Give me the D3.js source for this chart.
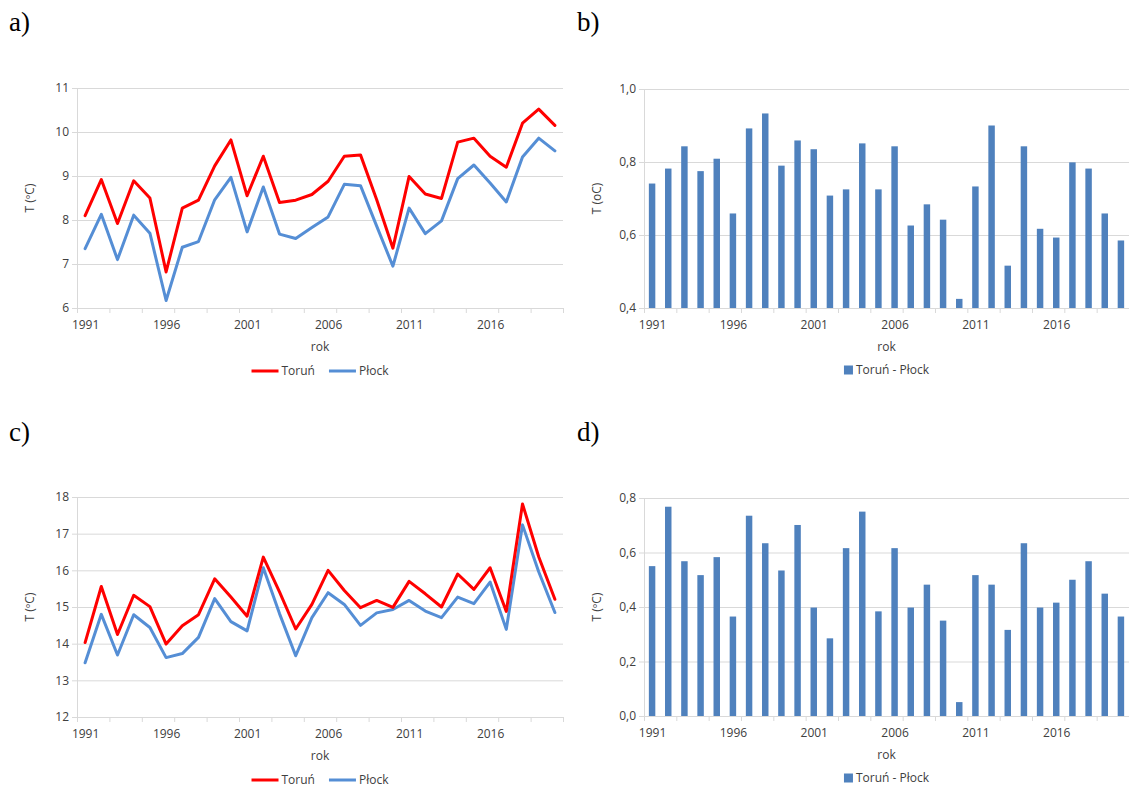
<!DOCTYPE html>
<html>
<head>
<meta charset="utf-8">
<script src="https://cdn.jsdelivr.net/npm/d3@7"></script>
<style>
  body { margin: 0; background: #fff; }
  svg { display: block; }
  .tick text { font-family: "Open Sans", sans-serif; font-size: 12px; fill: #404040; }
  .lbl { font-family: "Open Sans", sans-serif; font-size: 12px; fill: #404040; }
  .panel { font-family: "Liberation Serif", "Times New Roman", serif; font-size: 27px; fill: #000; }
</style>
</head>
<body>
<div id="chart"></div>
<script>
const years = d3.range(1991, 2021);
const labelYears = [1991, 1996, 2001, 2006, 2011, 2016];

// a) annual mean temperature
const torunA = [8.10, 8.92, 7.92, 8.89, 8.50, 6.82, 8.27, 8.45, 9.23, 9.82,
                8.55, 9.45, 8.40, 8.45, 8.58, 8.88, 9.45, 9.48, 8.46, 7.36,
                8.99, 8.59, 8.49, 9.77, 9.86, 9.45, 9.20, 10.20, 10.52, 10.15];
const plockA = [7.35, 8.13, 7.10, 8.11, 7.70, 6.17, 7.38, 7.51, 8.46, 8.97,
                7.73, 8.75, 7.68, 7.58, 7.83, 8.07, 8.81, 8.78, 7.86, 6.95,
                8.27, 7.69, 7.98, 8.94, 9.25, 8.84, 8.41, 9.43, 9.86, 9.57];

// b) difference Toruń - Płock
const diffB = [0.741, 0.782, 0.843, 0.775, 0.809, 0.659, 0.892, 0.933, 0.790, 0.859,
               0.835, 0.708, 0.725, 0.851, 0.725, 0.843, 0.626, 0.684, 0.642, 0.425,
               0.733, 0.900, 0.516, 0.843, 0.617, 0.593, 0.799, 0.782, 0.659, 0.585];

// c) second temperature series
const torunC = [14.03, 15.56, 14.25, 15.32, 15.01, 13.99, 14.49, 14.79, 15.77, 15.27,
                14.75, 16.36, 15.41, 14.40, 15.07, 16.00, 15.45, 14.98, 15.18, 14.99,
                15.70, 15.36, 15.00, 15.90, 15.48, 16.07, 14.88, 17.81, 16.37, 15.21];
const plockC = [13.48, 14.80, 13.69, 14.79, 14.44, 13.62, 13.73, 14.17, 15.23, 14.60,
                14.35, 16.07, 14.82, 13.67, 14.71, 15.39, 15.07, 14.50, 14.84, 14.93,
                15.18, 14.89, 14.71, 15.27, 15.09, 15.68, 14.39, 17.24, 15.96, 14.85];

// d) difference Toruń - Płock
const diffD = [0.550, 0.768, 0.568, 0.517, 0.583, 0.365, 0.735, 0.634, 0.534, 0.701,
               0.398, 0.285, 0.616, 0.750, 0.384, 0.616, 0.398, 0.482, 0.350, 0.051,
               0.517, 0.482, 0.316, 0.634, 0.398, 0.416, 0.500, 0.568, 0.449, 0.365];

const yTicksA = [6, 7, 8, 9, 10, 11];
const yTicksB = [0.4, 0.6, 0.8, 1.0];
const yTicksC = [12, 13, 14, 15, 16, 17, 18];
const yTicksD = [0.0, 0.2, 0.4, 0.6, 0.8];

const W = 1129, H = 787;
const gridColor = "#d9d9d9";
const red = "#ff0000", blue = "#558ed5", barColor = "#4f81bd";

const svg = d3.select("#chart").append("svg")
  .attr("width", W).attr("height", H);

const comma = d3.formatLocale({decimal: ",", thousands: " ", grouping: [3], currency: ["", ""]});

function frame(box, ticks, fmt, yTitle) {
  const g = svg.append("g");
  const y = d3.scaleLinear()
    .domain([ticks[0], ticks[ticks.length - 1]])
    .range([box.bottom, box.top]);

  // gridlines
  g.append("g")
    .attr("transform", "translate(" + box.left + ",0)")
    .call(d3.axisLeft(y).tickValues(ticks).tickSize(-(box.right - box.left)).tickFormat(""))
    .call(s => s.select(".domain").remove())
    .call(s => s.selectAll("line").attr("stroke", gridColor));

  // y axis with outer ticks
  g.append("g")
    .attr("transform", "translate(" + box.left + ",0)")
    .call(d3.axisLeft(y).tickValues(ticks).tickSize(5).tickPadding(3).tickFormat(fmt))
    .call(s => s.select(".domain").attr("stroke", gridColor))
    .call(s => s.selectAll("line").attr("stroke", gridColor));

  // category ticks every 2 years on band boundaries
  const xi = d3.scaleLinear().domain([0, years.length]).range([box.left, box.right]);
  g.append("g")
    .attr("transform", "translate(0," + box.bottom + ")")
    .call(d3.axisBottom(xi).tickValues(d3.range(0, years.length + 1, 2)).tickSize(5).tickFormat(""))
    .call(s => s.select(".domain").attr("stroke", gridColor))
    .call(s => s.selectAll("line").attr("stroke", gridColor));

  // year labels every 5 years
  const xp = d3.scalePoint().domain(years).range([box.left, box.right]).padding(0.5);
  g.append("g")
    .attr("transform", "translate(0," + box.bottom + ")")
    .call(d3.axisBottom(xp).tickValues(labelYears).tickSize(0).tickPadding(12))
    .call(s => s.select(".domain").remove());

  const cx = (box.left + box.right) / 2;
  g.append("text").attr("class", "lbl")
    .attr("x", cx).attr("y", box.bottom + 43)
    .attr("text-anchor", "middle").text("rok");

  g.append("text").attr("class", "lbl")
    .attr("transform", "translate(" + box.titleX + "," + ((box.top + box.bottom) / 2) + ") rotate(-90)")
    .attr("text-anchor", "middle").attr("dy", "0.35em")
    .text(yTitle);

  return {g, y, xp, cx};
}

function linePanel(box, ticks, s1, s2, yTitle) {
  const f = frame(box, ticks, d3.format("d"), yTitle);
  const line = d3.line()
    .x((d, i) => f.xp(years[i]))
    .y(d => f.y(d));
  [[s2, blue], [s1, red]].forEach(([s, c]) => {
    f.g.append("path")
      .datum(s)
      .attr("fill", "none")
      .attr("stroke", c)
      .attr("stroke-width", 3)
      .attr("stroke-linejoin", "round")
      .attr("stroke-linecap", "round")
      .attr("d", line);
  });

  // legend
  const lg = f.g.append("g");
  const items = [["Toruń", red], ["Płock", blue]];
  let xpos = 0;
  items.forEach(([name, c], i) => {
    lg.append("line")
      .attr("x1", xpos).attr("x2", xpos + 27)
      .attr("y1", 0).attr("y2", 0)
      .attr("stroke", c).attr("stroke-width", 3);
    const t = lg.append("text").attr("class", "lbl")
      .attr("x", xpos + 30).attr("dy", "0.35em").text(name);
    xpos += 30 + t.node().getComputedTextLength() + 14;
  });
  xpos -= 14;
  lg.attr("transform", "translate(" + (f.cx - xpos / 2) + "," + (box.bottom + 63) + ")");
}

function barPanel(box, ticks, vals, yTitle) {
  const f = frame(box, ticks, v => comma.format(".1f")(v), yTitle);
  const xb = d3.scaleBand().domain(years).range([box.left, box.right])
    .paddingInner(0.6).paddingOuter(0.3);
  f.g.append("g").selectAll("rect")
    .data(vals)
    .enter().append("rect")
    .attr("x", (d, i) => xb(years[i]))
    .attr("y", d => f.y(d))
    .attr("width", xb.bandwidth())
    .attr("height", d => f.y(ticks[0]) - f.y(d))
    .attr("fill", barColor);

  const lg = f.g.append("g");
  lg.append("rect").attr("x", 0).attr("y", -4.5).attr("width", 9).attr("height", 9).attr("fill", barColor);
  const t = lg.append("text").attr("class", "lbl")
    .attr("x", 12).attr("dy", "0.35em").text("Toruń - Płock");
  const w = 12 + t.node().getComputedTextLength();
  lg.attr("transform", "translate(" + (f.cx - w / 2) + "," + (box.bottom + 62) + ")");
}

linePanel({left: 77, right: 563, top: 88, bottom: 308, titleX: 30}, yTicksA, torunA, plockA, "T (ºC)");
barPanel({left: 644, right: 1129, top: 89, bottom: 308, titleX: 597}, yTicksB, diffB, "T (oC)");
linePanel({left: 77, right: 563, top: 497, bottom: 717, titleX: 30}, yTicksC, torunC, plockC, "T (ºC)");
barPanel({left: 644, right: 1129, top: 498, bottom: 716, titleX: 597}, yTicksD, diffD, "T (ºC)");

// panel letters
[["a)", 9, 31], ["b)", 577, 31], ["c)", 9, 441], ["d)", 577, 441]].forEach(([t, x, y]) => {
  svg.append("text").attr("class", "panel").attr("x", x).attr("y", y).text(t);
});
</script>
</body>
</html>
